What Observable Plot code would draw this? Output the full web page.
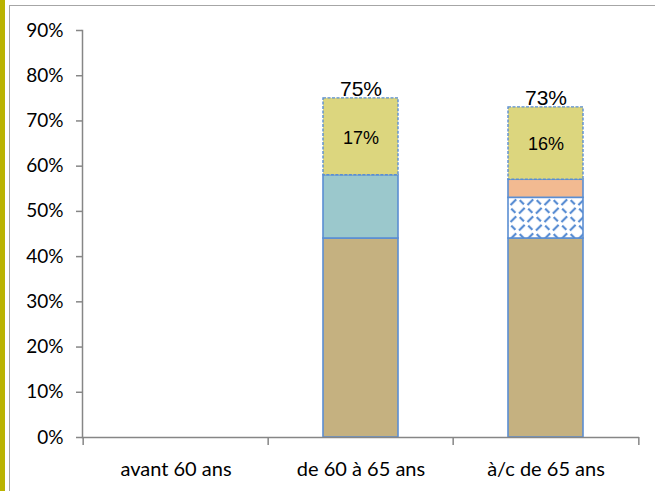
<!DOCTYPE html>
<html>
<head>
<meta charset="utf-8">
<script src="https://cdn.jsdelivr.net/npm/d3@7"></script>
<script src="https://cdn.jsdelivr.net/npm/@observablehq/plot@0.6"></script>
<style>
  html, body { margin: 0; padding: 0; background: #fff; }
  #wrap { position: relative; width: 655px; height: 491px; overflow: hidden; background: #fff; }
  #strip { position: absolute; left: 0; top: 0; width: 5px; height: 491px; background: #bab300; }
  #frame { position: absolute; left: 9px; top: 5px; width: 700px; height: 600px; border: 1.5px solid #a6a6a6; box-sizing: border-box; }
  #chart { position: absolute; left: 0; top: 0; }
  #chart svg { overflow: visible; }
</style>
</head>
<body>
<div id="wrap">
  <div id="strip"></div>
  <div id="frame"></div>
  <div id="chart"></div>
</div>
<script>
// ---- data ----
const categories = ["avant 60 ans", "de 60 à 65 ans", "à/c de 65 ans"];
const segments = ["base", "teal", "hatch", "salmon", "top"];
const baseValues   = [0, 44, 44];
const tealValues   = [0, 14, 0];
const hatchValues  = [0, 0, 9];
const salmonValues = [0, 0, 4];
const topValues    = [0, 17, 16];
const yTicks = [0, 0.1, 0.2, 0.3, 0.4, 0.5, 0.6, 0.7, 0.8, 0.9];

const segmentValues = [baseValues, tealValues, hatchValues, salmonValues, topValues];
const segmentFills = ["#c5b180", "#9bc8cc", "url(#hatch)", "#f2ba91", "#dcd67e"];

// build stacked rows
const rows = [];
const totals = [];
categories.forEach((cat, i) => {
  let acc = 0;
  segments.forEach((seg, s) => {
    const v = segmentValues[s][i];
    if (v > 0) {
      rows.push({cat, seg, value: v, y1: acc / 100, y2: (acc + v) / 100});
      acc += v;
    }
  });
  if (acc > 0) totals.push({cat, total: acc / 100});
});
const lowerRows = rows.filter(d => d.seg !== "top");
const topRows = rows.filter(d => d.seg === "top");

const W = 655, H = 491;
const blue = "#5a8ed3";
const axisGray = "#868686";
const step = (W - 82 - 16) / categories.length;

const chart = Plot.plot({
  width: W,
  height: H,
  marginLeft: 82,
  marginRight: 16,
  marginTop: 30,
  marginBottom: 54,
  style: {background: "transparent", fontFamily: "Lato, sans-serif", color: "#000"},
  x: {type: "band", domain: categories, paddingInner: 0, paddingOuter: 0, label: null},
  y: {domain: [0, 0.9], label: null},
  color: {type: "ordinal", domain: segments, range: segmentFills},
  marks: [
    Plot.barY(lowerRows, {x: "cat", y1: "y1", y2: "y2", fill: "seg", stroke: blue, strokeWidth: 1.6, insetLeft: 55, insetRight: 55}),
    Plot.barY(topRows, {x: "cat", y1: "y1", y2: "y2", fill: "seg", stroke: blue, strokeWidth: 1.4, strokeDasharray: "3,1.5", insetLeft: 55, insetRight: 55}),
    Plot.text(topRows, {x: "cat", y: d => (d.y1 + d.y2) / 2, text: d => d.value + "%", fontSize: 18, fontFamily: "Liberation Sans, Arial, sans-serif", fill: "#000", dy: 1}),
    Plot.text(totals, {x: "cat", y: "total", text: d => Math.round(d.total * 100) + "%", fontSize: 21, fontFamily: "Liberation Sans, Arial, sans-serif", fill: "#000", lineAnchor: "bottom", dy: -2}),
    Plot.axisY({ticks: yTicks, tickFormat: d3.format(".0%"), tickSize: 6, tickPadding: 13, fontSize: 19, stroke: axisGray, strokeWidth: 1.5, strokeOpacity: 1}),
    Plot.frame({anchor: "left", stroke: axisGray, strokeWidth: 1.5}),
    Plot.ruleY([0], {stroke: axisGray, strokeWidth: 1.5}),
    Plot.ruleX(categories, {x: d => d, y1: 0, y2: 0, insetBottom: -8, dx: -step / 2, stroke: axisGray, strokeWidth: 1.5}),
    Plot.ruleX([categories[categories.length - 1]], {x: d => d, y1: 0, y2: 0, insetBottom: -8, dx: step / 2, stroke: axisGray, strokeWidth: 1.5}),
    Plot.axisX({tickSize: 0, tickPadding: 24, fontSize: 20})
  ]
});

// hatch pattern definition
const ns = "http://www.w3.org/2000/svg";
const defs = document.createElementNS(ns, "defs");
defs.innerHTML = `
  <pattern id="hatch" patternUnits="userSpaceOnUse" width="12" height="12" patternTransform="rotate(-45)">
    <rect width="12" height="12" fill="#ffffff"/>
    <path d="M0 2 H8" stroke="${blue}" stroke-width="2.2"/>
    <path d="M10 5 V11" stroke="${blue}" stroke-width="2.2"/>
  </pattern>`;
chart.insertBefore(defs, chart.firstChild);
document.getElementById("chart").appendChild(chart);
</script>
</body>
</html>
